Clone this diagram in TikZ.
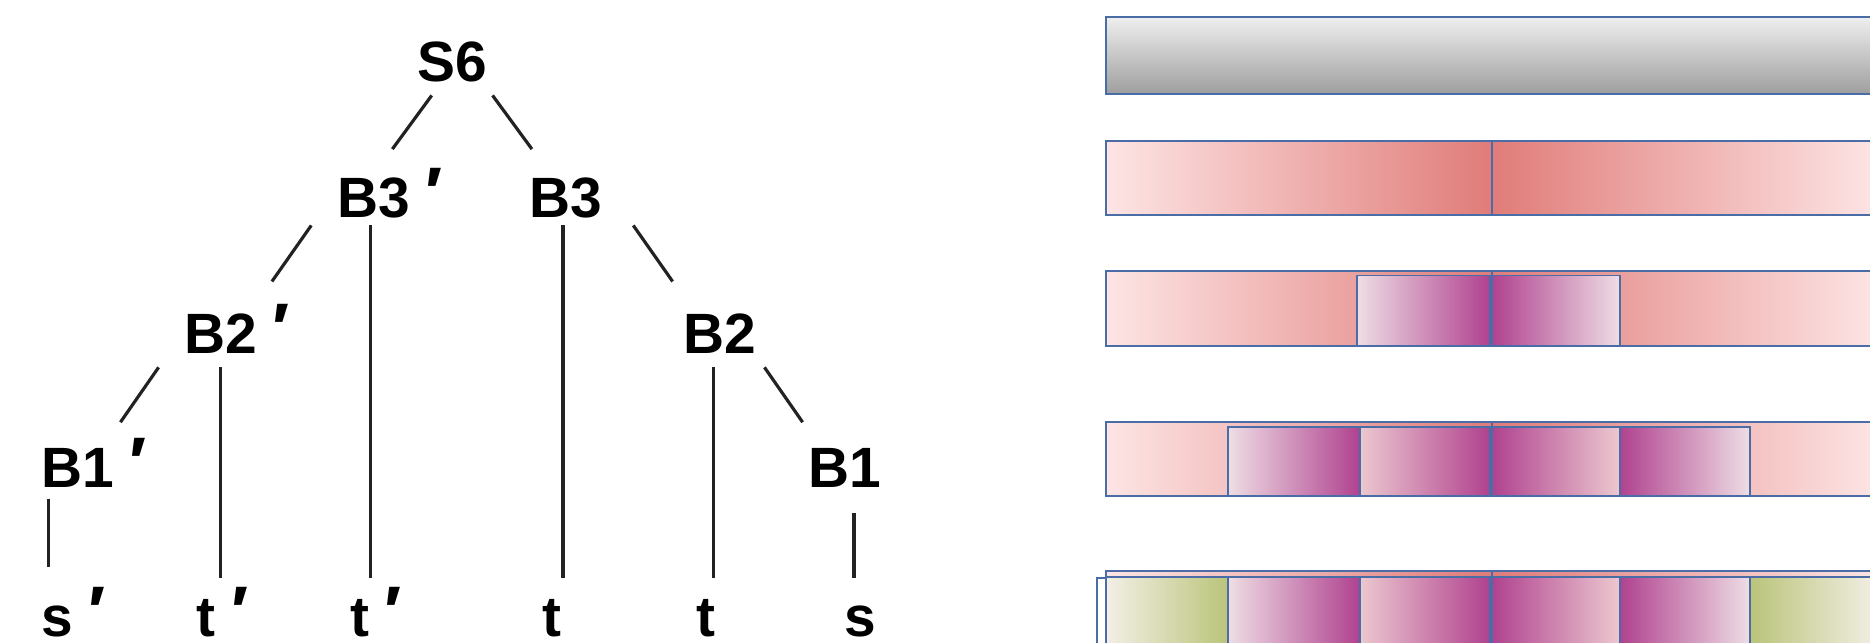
\documentclass[tikz,border=0pt]{standalone}
\usepackage{fontspec}
\newfontfamily\treefont{Liberation Sans}
\usetikzlibrary{calc}
\definecolor{grayT}{HTML}{EFEFEF}
\definecolor{grayB}{HTML}{9E9E9E}
\definecolor{pinkL}{HTML}{FDE5E5}
\definecolor{pinkD}{HTML}{E07C79}
\definecolor{purpL}{HTML}{EEDDE4}
\definecolor{purpM}{HTML}{ECC8CF}
\definecolor{purpD}{HTML}{B0428F}
\definecolor{greenL}{HTML}{F3EFE6}
\definecolor{greenD}{HTML}{BAC47A}
\definecolor{barline}{HTML}{4A6DA8}
\definecolor{treeline}{HTML}{222222}
\newcommand{\pr}{\kern0.27em{\fontsize{36}{36}\selectfont′}}
\tikzset{
  lbl/.style={anchor=base west, inner sep=0pt, outer sep=0pt, font=\treefont\bfseries\fontsize{28.6}{34}\selectfont},
  edge/.style={draw=treeline, line width=1.6pt},
  bar/.style={draw=barline, line width=1pt},
}
\begin{document}
\begin{tikzpicture}[x=0.6pt, y=-0.6pt]
\useasboundingbox (0,0) rectangle (1568,539);
\clip (0,0) rectangle (1568,539);
% tree labels
\node[lbl] (S6) at (350,68) {S6};
\node[lbl] (B3p) at (283,182) {B3\pr};
\node[lbl] (B3) at (444,182) {B3};
\node[lbl] (B2p) at (155,296) {B2\pr};
\node[lbl] (B2) at (573,296) {B2};
\node[lbl] (B1p) at (35,409) {B1\pr};
\node[lbl] (B1) at (678,409) {B1};
\node[lbl] (L1) at (35,534) {s\pr};
\node[lbl] (L2) at (165,534) {t\pr};
\node[lbl] (L3) at (294,534) {t\pr};
\node[lbl] (L4) at (455,534) {t};
\node[lbl] (L5) at (584,534) {t};
\node[lbl] (L6) at (708,534) {s};
% tree edges
\draw[edge] ($(S6.base west)+(12,12)$) -- ($(B3p.base west)+(46,-57)$);
\draw[edge] ($(S6.base west)+(63,12)$) -- ($(B3.base west)+(2,-57)$);
\draw[edge] ($(B3p.base west)+(-22,7)$) -- ($(B2p.base west)+(73,-60)$);
\draw[edge] ($(B3p.base west)+(28,7)$) -- ($(L3.base west)+(17,-49)$);
\draw[edge] ($(B3.base west)+(28,7)$) -- ($(L4.base west)+(17,-49)$);
\draw[edge] ($(B3.base west)+(87,7)$) -- ($(B2.base west)+(-9,-60)$);
\draw[edge] ($(B2p.base west)+(-22,12)$) -- ($(B1p.base west)+(66,-55)$);
\draw[edge] ($(B2p.base west)+(30,12)$) -- ($(L2.base west)+(20,-49)$);
\draw[edge] ($(B2.base west)+(25,12)$) -- ($(L5.base west)+(14,-49)$);
\draw[edge] ($(B2.base west)+(68,12)$) -- ($(B1.base west)+(-5,-55)$);
\draw[edge] ($(B1p.base west)+(6,9)$) -- ($(L1.base west)+(6,-59)$);
\draw[edge] ($(B1.base west)+(38,21)$) -- ($(L6.base west)+(8,-49)$);
% row 1
\path[bar, top color=grayT, bottom color=grayB] (927,14) rectangle (1575,79);
% row 2
\path[bar, left color=pinkL, right color=pinkD] (927,118) rectangle (1251,180);
\path[bar, left color=pinkD, right color=pinkL] (1251,118) rectangle (1575,180);
% row 3
\path[bar, left color=pinkL, right color=pinkD] (927,227) rectangle (1251,290);
\path[bar, left color=pinkD, right color=pinkL] (1251,227) rectangle (1575,290);
\path[bar, left color=purpL, right color=purpD] (1138,231) rectangle (1249,290);
\path[bar, left color=purpD, right color=purpL] (1251,231) rectangle (1358,290);
% row 4
\path[bar, left color=pinkL, right color=pinkD] (927,354) rectangle (1251,416);
\path[bar, left color=pinkD, right color=pinkL] (1251,354) rectangle (1575,416);
\path[bar, left color=purpL, right color=purpD] (1030,358) rectangle (1140,416);
\path[bar, left color=purpM, right color=purpD] (1140,358) rectangle (1249,416);
\path[bar, left color=purpD, right color=purpM] (1251,358) rectangle (1358,416);
\path[bar, left color=purpD, right color=purpL] (1358,358) rectangle (1467,416);
% row 5
\path[bar, left color=pinkL, right color=pinkD] (927,479) rectangle (1251,560);
\path[bar, left color=pinkD, right color=pinkL] (1251,479) rectangle (1575,560);
\path[bar] (920,485) rectangle (1575,560);
\path[bar, left color=greenL, right color=greenD] (927,484) rectangle (1030,560);
\path[bar, left color=purpL, right color=purpD] (1030,484) rectangle (1140,560);
\path[bar, left color=purpM, right color=purpD] (1140,484) rectangle (1249,560);
\path[bar, left color=purpD, right color=purpM] (1251,484) rectangle (1358,560);
\path[bar, left color=purpD, right color=purpL] (1358,484) rectangle (1467,560);
\path[bar, left color=greenD, right color=greenL] (1467,484) rectangle (1575,560);
\end{tikzpicture}
\end{document}
